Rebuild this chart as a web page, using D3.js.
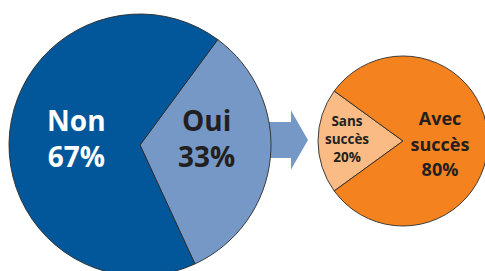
<!DOCTYPE html>
<html>
<head>
<meta charset="utf-8">
<style>
  body { margin: 0; background: #fff; }
  svg { display: block; }
  text { font-family: 'Open Sans', 'DejaVu Sans', sans-serif; font-weight: 700; }
</style>
</head>
<body>
<svg width="485" height="271"></svg>
<script src="https://d3js.org/d3.v7.min.js"></script>
<script>
  // big pie
  let bigLabels = ["Oui", "Non"];
  let bigValues = [33, 67];
  let bigColors = ["#7598c7", "#02579a"];
  let bigText = ["#231f20", "#ffffff"];

  // small pie: split of the "Oui"
  let smallLabels = ["Sans succès", "Avec succès"];
  let smallValues = [20, 80];
  let smallColors = ["#fbbb85", "#f4821f"];

  let svg = d3.select("svg");
  let deg = Math.PI / 180;

  let big = { cx: 140, cy: 145, r: 131, start: 36.4 };
  let small = { cx: 403, cy: 141, r: 85, start: 234 };

  // arrow between the two pies
  let ay = 140;
  let arrow = d3.path();
  arrow.moveTo(big.cx + 110, ay - 18);
  arrow.lineTo(291, ay - 18);
  arrow.lineTo(291, ay - 29.5);
  arrow.lineTo(308, ay);
  arrow.lineTo(291, ay + 29.5);
  arrow.lineTo(291, ay + 18);
  arrow.lineTo(big.cx + 110, ay + 18);
  arrow.closePath();
  svg.append("path").attr("d", arrow.toString()).attr("fill", bigColors[0]);

  function drawPie(p, values, colors) {
    let pie = d3.pie().sort(null)
      .startAngle(p.start * deg)
      .endAngle(p.start * deg + 2 * Math.PI);
    let arc = d3.arc().innerRadius(0).outerRadius(p.r);
    let g = svg.append("g").attr("transform", `translate(${p.cx},${p.cy})`);
    g.selectAll("path")
      .data(pie(values))
      .join("path")
      .attr("d", arc)
      .attr("fill", (d, i) => colors[i])
      .attr("stroke", "#2b2b2b")
      .attr("stroke-width", 0.9)
      .attr("stroke-linejoin", "round");
    return { g: g, arcs: pie(values) };
  }

  let bp = drawPie(big, bigValues, bigColors);
  let sp = drawPie(small, smallValues, smallColors);

  let fmt = v => v + "%";

  // big pie labels
  let bigLabelR = [67, 64];
  bp.arcs.forEach((d, i) => {
    let a = (d.startAngle + d.endAngle) / 2;
    let x = bigLabelR[i] * Math.sin(a);
    let t = bp.g.append("text")
      .attr("text-anchor", "middle")
      .attr("fill", bigText[i])
      .style("font-size", "28px");
    t.append("tspan").attr("x", x).attr("y", -14).text(bigLabels[i]);
    t.append("tspan").attr("x", x).attr("y", 22).text(fmt(bigValues[i]));
  });

  // small pie labels
  let smallLabelR = [56, 37];
  let smallFont = [13.5, 18];
  let smallLine = [18, 25.5];
  let smallTop = [-15, -16];
  sp.arcs.forEach((d, i) => {
    let a = (d.startAngle + d.endAngle) / 2;
    let x = smallLabelR[i] * Math.sin(a);
    let lines = smallLabels[i].split(" ").concat([fmt(smallValues[i])]);
    let t = sp.g.append("text")
      .attr("text-anchor", "middle")
      .attr("fill", "#231f20")
      .style("font-size", smallFont[i] + "px");
    lines.forEach((s, j) => {
      t.append("tspan").attr("x", x).attr("y", smallTop[i] + j * smallLine[i]).text(s);
    });
  });
</script>
</body>
</html>
